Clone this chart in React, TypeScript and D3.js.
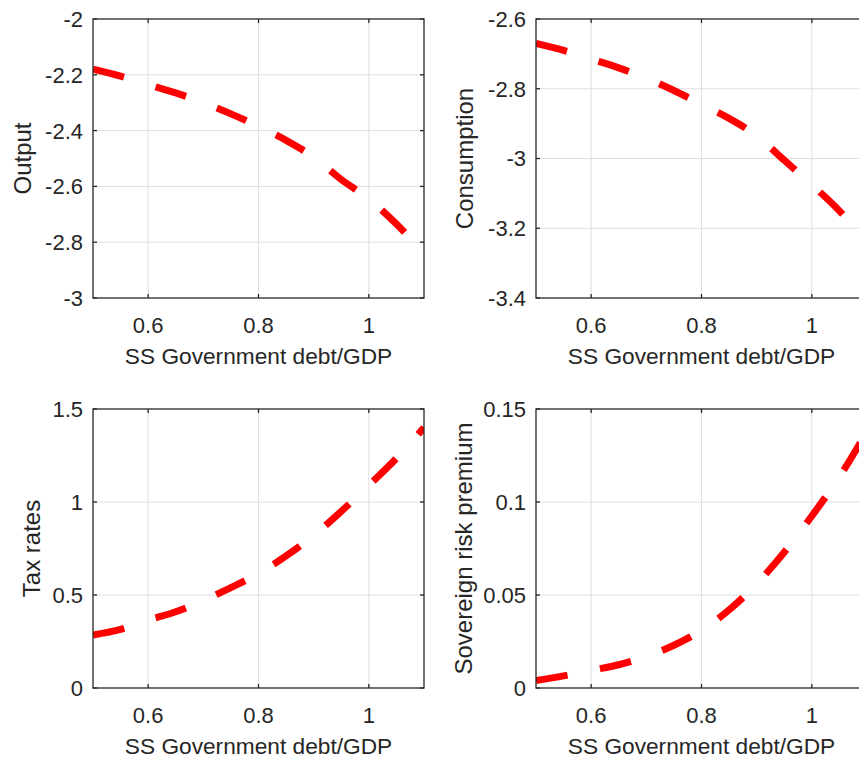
import React from "react";
import * as d3 from "d3";

// steady-state government debt/GDP grid
const debtGrid = [0.5, 0.55, 0.6, 0.65, 0.7, 0.75, 0.8, 0.85, 0.9, 0.95, 1.0, 1.05, 1.1];

const outputVals = [-2.18, -2.205, -2.235, -2.265, -2.3, -2.34, -2.385, -2.435, -2.495, -2.575, -2.645, -2.735, -2.84];
const consumptionVals = [-2.67, -2.69, -2.715, -2.74, -2.77, -2.805, -2.845, -2.885, -2.935, -3.005, -3.075, -3.15, -3.24];
const taxVals = [0.285, 0.315, 0.365, 0.41, 0.47, 0.54, 0.615, 0.71, 0.82, 0.95, 1.09, 1.235, 1.4];
const premiumVals = [0.004, 0.0065, 0.0095, 0.0125, 0.017, 0.023, 0.031, 0.042, 0.056, 0.073, 0.0925, 0.1135, 0.138];

const xTicks = [0.6, 0.8, 1];
const outputTicks = [-3, -2.8, -2.6, -2.4, -2.2, -2];
const consumptionTicks = [-3.4, -3.2, -3, -2.8, -2.6];
const taxTicks = [0, 0.5, 1, 1.5];
const premiumTicks = [0, 0.05, 0.1, 0.15];

const xLabel = "SS Government debt/GDP";

const W = 331;
const H = 279;
const font = "'Liberation Sans', Arial, Helvetica, sans-serif";
const axisColor = "#262626";

const panels = [
  { name: "Output", vals: outputVals, ticks: outputTicks, left: 93, top: 19, labelOff: 71 },
  { name: "Consumption", vals: consumptionVals, ticks: consumptionTicks, left: 536, top: 19, labelOff: 72 },
  { name: "Tax rates", vals: taxVals, ticks: taxTicks, left: 93, top: 409, labelOff: 62 },
  { name: "Sovereign risk premium", vals: premiumVals, ticks: premiumTicks, left: 536, top: 409, labelOff: 73 },
];

function Panel({ p, idx }) {
  const x = d3.scaleLinear().domain([0.5, 1.1]).range([0, W]);
  const y = d3.scaleLinear().domain(d3.extent(p.ticks)).range([H, 0]);
  const line = d3.line()
    .x((d) => x(d[0]))
    .y((d) => y(d[1]))
    .curve(d3.curveMonotoneX);
  const pts = debtGrid.map((g, i) => [g, p.vals[i]]);
  const clipId = `clip${idx}`;

  return (
    <g transform={`translate(${p.left},${p.top})`}>
      <clipPath id={clipId}>
        <rect x={0} y={0} width={W} height={H} />
      </clipPath>
      {/* grid */}
      {xTicks.map((t) => (
        <line key={"gx" + t} x1={x(t)} x2={x(t)} y1={0} y2={H} stroke="#dfdfdf" strokeWidth={1} />
      ))}
      {p.ticks.slice(1, -1).map((t) => (
        <line key={"gy" + t} x1={0} x2={W} y1={y(t)} y2={y(t)} stroke="#dfdfdf" strokeWidth={1} />
      ))}
      {/* data */}
      <path
        d={line(pts)}
        fill="none"
        stroke="#ff0000"
        strokeWidth={7}
        strokeDasharray="32 33"
        strokeLinecap="butt"
        clipPath={`url(#${clipId})`}
      />
      {/* box + inward ticks */}
      <rect x={0} y={0} width={W} height={H} fill="none" stroke={axisColor} strokeWidth={1.3} />
      {xTicks.map((t) => (
        <g key={"tx" + t}>
          <line x1={x(t)} x2={x(t)} y1={H} y2={H - 4} stroke={axisColor} strokeWidth={1.3} />
          <line x1={x(t)} x2={x(t)} y1={0} y2={4} stroke={axisColor} strokeWidth={1.3} />
          <text x={x(t)} y={H + 35} textAnchor="middle" fontSize={22} fill={axisColor} fontFamily={font}>
            {t}
          </text>
        </g>
      ))}
      {p.ticks.map((t) => (
        <g key={"ty" + t}>
          <line x1={0} x2={4} y1={y(t)} y2={y(t)} stroke={axisColor} strokeWidth={1.3} />
          <line x1={W} x2={W - 4} y1={y(t)} y2={y(t)} stroke={axisColor} strokeWidth={1.3} />
          <text x={-10} y={y(t)} dy="0.36em" textAnchor="end" fontSize={22} fill={axisColor} fontFamily={font}>
            {t}
          </text>
        </g>
      ))}
      <text x={W / 2} y={H + 66} textAnchor="middle" fontSize={22.7} fill={axisColor} fontFamily={font}>
        {xLabel}
      </text>
      <text
        transform={`translate(${-p.labelOff},${H / 2}) rotate(-90)`}
        textAnchor="middle"
        dy="0.36em"
        fontSize={24}
        fill={axisColor}
        fontFamily={font}
      >
        {p.name}
      </text>
    </g>
  );
}

export default function App() {
  return (
    <svg
      width={859}
      height={757}
      style={{ position: "absolute", left: 0, top: 0, background: "#fff", overflow: "hidden" }}
    >
      <rect width={859} height={757} fill="#fff" />
      {panels.map((p, i) => (
        <Panel key={p.name} p={p} idx={i} />
      ))}
    </svg>
  );
}
